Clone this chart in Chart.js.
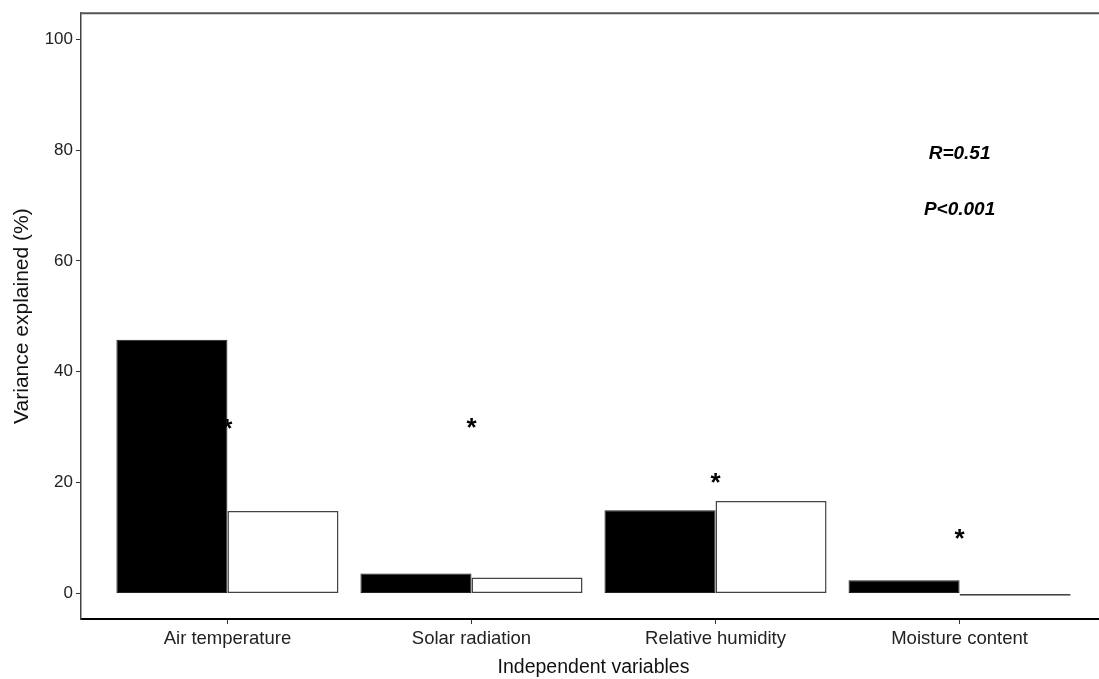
<!DOCTYPE html>
<html>
<head>
<meta charset="utf-8">
<script src="https://cdn.jsdelivr.net/npm/chart.js@4/dist/chart.umd.min.js"></script>
<style>
  html, body { margin: 0; padding: 0; background: #fff; overflow: hidden; }
  #wrap { width: 1110px; height: 679px; position: relative; }
</style>
</head>
<body>
<div id="wrap"><canvas id="chart"></canvas></div>
<script>
// Data
const categories = ["Air temperature", "Solar radiation", "Relative humidity", "Moisture content"];
const blackValues = [45.8, 3.6, 15.0, 2.4];
const whiteValues = [14.9, 2.9, 16.7, -0.4];
const starValues = [30.6, 30.7, 20.8, 10.8];
const yTicks = [0, 20, 40, 60, 80, 100];
const statLabels = ["R=0.51", "P<0.001"];
const statValues = [80, 70];
const statCategory = 4;

const FONT = "'Liberation Sans', Arial, sans-serif";

const toPoints = (vals) => vals.map((v, i) => ({ x: i + 1, y: v }));

// asterisks + stats text, drawn under the bars so the first star hides behind them
const annotations = {
  id: "annotations",
  beforeDatasetsDraw(chart) {
    const { ctx, scales } = chart;
    ctx.save();
    ctx.fillStyle = "#000";
    ctx.textAlign = "center";
    ctx.textBaseline = "alphabetic";
    ctx.font = "bold 26px " + FONT;
    starValues.forEach((v, i) => {
      const x = scales.x.getPixelForValue(i + 1);
      const y = scales.y.getPixelForValue(v);
      ctx.fillText("*", x, y + 13);
    });
    ctx.font = "italic bold 19px " + FONT;
    ctx.textBaseline = "middle";
    statLabels.forEach((t, i) => {
      ctx.fillText(t, scales.x.getPixelForValue(statCategory), scales.y.getPixelForValue(statValues[i]) + 4);
    });
    ctx.restore();
  },
  afterDraw(chart) {
    const { ctx, chartArea } = chart;
    ctx.save();
    ctx.strokeStyle = "#555";
    ctx.lineWidth = 2;
    ctx.beginPath();
    ctx.moveTo(chartArea.left - 1, chartArea.top);
    ctx.lineTo(chartArea.right, chartArea.top);
    ctx.stroke();
    ctx.restore();
  },
};

new Chart(document.getElementById("chart"), {
  type: "bar",
  data: {
    datasets: [
      {
        data: toPoints(blackValues),
        backgroundColor: "#000",
        borderColor: "#222",
        borderWidth: 1,
        borderSkipped: false,
      },
      {
        data: toPoints(whiteValues),
        backgroundColor: "#fff",
        borderColor: "#444",
        borderWidth: 1.5,
        borderSkipped: false,
      },
    ],
  },
  options: {
    responsive: true,
    maintainAspectRatio: false,
    animation: false,
    devicePixelRatio: 1,
    layout: { padding: { top: 12, right: 4, bottom: 0, left: 0 } },
    datasets: {
      bar: { categoryPercentage: 0.91, barPercentage: 1 },
    },
    scales: {
      x: {
        type: "linear",
        min: 0.4,
        max: 4.6,
        offset: false,
        afterBuildTicks(scale) {
          scale.ticks = categories.map((c, i) => ({ value: i + 1 }));
        },
        afterFit(scale) {
          scale.height = 60;
        },
        border: { display: true, color: "#000", width: 2 },
        grid: { offset: false, drawOnChartArea: false, drawTicks: true, tickLength: 5, color: "#333" },
        ticks: {
          color: "#222",
          font: { family: FONT, size: 18.5 },
          padding: 4,
          maxRotation: 0,
          callback: (v) => categories[v - 1],
        },
        title: {
          display: true,
          text: "Independent variables",
          color: "#111",
          font: { family: FONT, size: 19.5 },
          padding: { top: 4, bottom: 0 },
        },
      },
      y: {
        min: -4.6,
        max: 104.7,
        afterBuildTicks(scale) {
          scale.ticks = yTicks.map((v) => ({ value: v }));
        },
        afterFit(scale) {
          scale.width = 81;
        },
        border: { display: true, color: "#444", width: 1.5 },
        grid: { drawOnChartArea: false, drawTicks: true, tickLength: 5, color: "#333" },
        ticks: {
          color: "#222",
          font: { family: FONT, size: 17 },
          padding: 3,
        },
        title: {
          display: true,
          text: "Variance explained (%)",
          color: "#111",
          font: { family: FONT, size: 21 },
          padding: { top: 10, bottom: 4 },
        },
      },
    },
    plugins: {
      legend: { display: false },
      tooltip: { enabled: false },
    },
  },
  plugins: [annotations],
});
</script>
</body>
</html>
